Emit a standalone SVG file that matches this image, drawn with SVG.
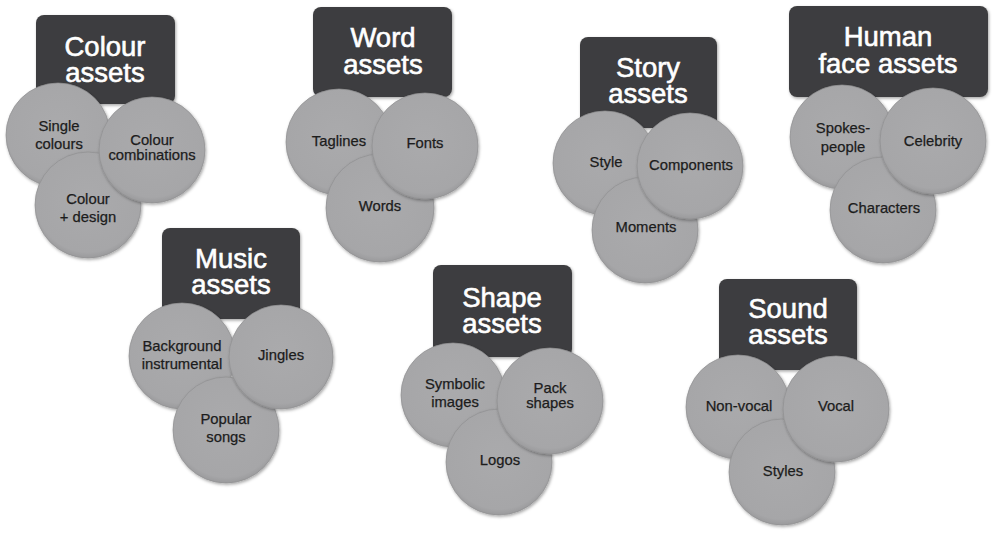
<svg xmlns="http://www.w3.org/2000/svg" width="1000" height="540" viewBox="0 0 1000 540">
<defs>
<filter id="sh" x="-20%" y="-20%" width="140%" height="140%">
<feDropShadow dx="1" dy="1.5" stdDeviation="1.5" flood-color="#000" flood-opacity="0.35"/>
</filter>
<radialGradient id="cg" cx="50%" cy="45%" r="55%">
<stop offset="0" stop-color="#aaaaac"/>
<stop offset="0.9" stop-color="#a6a6a8"/>
<stop offset="1" stop-color="#9a9a9c"/>
</radialGradient>
</defs>
<style>
.box{fill:#3d3d3f;filter:url(#sh)}
.c{fill:url(#cg);stroke:#8f8f91;stroke-width:0.7;filter:url(#sh)}
.t{font-family:"Liberation Sans",Arial,sans-serif;font-size:27.5px;fill:#fff;stroke:#fff;stroke-width:0.6;text-anchor:middle}
.l{font-family:"Liberation Sans",Arial,sans-serif;font-size:14.8px;fill:#1c1c1c;stroke:#1c1c1c;stroke-width:0.25;text-anchor:middle}
</style>
<rect width="1000" height="540" fill="#fff"/>

<g id="colour">
<rect class="box" x="36" y="15" width="139" height="89" rx="8"/>
<text class="t" x="105" y="56">Colour</text>
<text class="t" x="105" y="82">assets</text>
<circle class="c" cx="58" cy="135" r="52"/>
<circle class="c" cx="88" cy="205" r="53"/>
<circle class="c" cx="152" cy="150" r="53"/>
<text class="l" x="59" y="131">Single</text>
<text class="l" x="59" y="149">colours</text>
<text class="l" x="152" y="145">Colour</text>
<text class="l" x="152" y="160">combinations</text>
<text class="l" x="88" y="204">Colour</text>
<text class="l" x="88" y="222">+ design</text>
</g>

<g id="word">
<rect class="box" x="313" y="7" width="139" height="90" rx="8"/>
<text class="t" x="383" y="47">Word</text>
<text class="t" x="383" y="74">assets</text>
<circle class="c" cx="339" cy="142" r="53"/>
<circle class="c" cx="380" cy="208" r="54"/>
<circle class="c" cx="425" cy="146" r="53"/>
<text class="l" x="339" y="146">Taglines</text>
<text class="l" x="425" y="148">Fonts</text>
<text class="l" x="380" y="211">Words</text>
</g>

<g id="story">
<rect class="box" x="580" y="37" width="137" height="91" rx="8"/>
<text class="t" x="648" y="77">Story</text>
<text class="t" x="648" y="103">assets</text>
<circle class="c" cx="605" cy="163" r="52"/>
<circle class="c" cx="645" cy="230" r="53"/>
<circle class="c" cx="690" cy="166" r="53"/>
<text class="l" x="606" y="167">Style</text>
<text class="l" x="691" y="170">Components</text>
<text class="l" x="646" y="232">Moments</text>
</g>

<g id="human">
<rect class="box" x="789" y="6" width="199" height="91" rx="8"/>
<text class="t" x="888" y="46">Human</text>
<text class="t" x="888" y="73">face assets</text>
<circle class="c" cx="842" cy="137" r="52"/>
<circle class="c" cx="883" cy="210" r="53"/>
<circle class="c" cx="933" cy="141" r="53"/>
<text class="l" x="843" y="133">Spokes-</text>
<text class="l" x="843" y="152">people</text>
<text class="l" x="933" y="146">Celebrity</text>
<text class="l" x="884" y="213">Characters</text>
</g>

<g id="music">
<rect class="box" x="162" y="228" width="138" height="91" rx="8"/>
<text class="t" x="231" y="268">Music</text>
<text class="t" x="231" y="294">assets</text>
<circle class="c" cx="182" cy="356" r="53"/>
<circle class="c" cx="226" cy="430" r="53"/>
<circle class="c" cx="281" cy="357" r="52"/>
<text class="l" x="182" y="351">Background</text>
<text class="l" x="182" y="369">instrumental</text>
<text class="l" x="281" y="360">Jingles</text>
<text class="l" x="226" y="424">Popular</text>
<text class="l" x="226" y="442">songs</text>
</g>

<g id="shape">
<rect class="box" x="433" y="265" width="139" height="92" rx="8"/>
<text class="t" x="502" y="307">Shape</text>
<text class="t" x="502" y="333">assets</text>
<circle class="c" cx="453" cy="395" r="52"/>
<circle class="c" cx="499" cy="462" r="53"/>
<circle class="c" cx="550" cy="401" r="53"/>
<text class="l" x="455" y="389">Symbolic</text>
<text class="l" x="455" y="407">images</text>
<text class="l" x="550" y="393">Pack</text>
<text class="l" x="550" y="408">shapes</text>
<text class="l" x="500" y="465">Logos</text>
</g>

<g id="sound">
<rect class="box" x="719" y="279" width="138" height="91" rx="8"/>
<text class="t" x="788" y="318">Sound</text>
<text class="t" x="788" y="344">assets</text>
<circle class="c" cx="738" cy="407" r="52"/>
<circle class="c" cx="782" cy="472" r="53"/>
<circle class="c" cx="836" cy="409" r="53"/>
<text class="l" x="739" y="411">Non-vocal</text>
<text class="l" x="836" y="411">Vocal</text>
<text class="l" x="783" y="476">Styles</text>
</g>
</svg>
